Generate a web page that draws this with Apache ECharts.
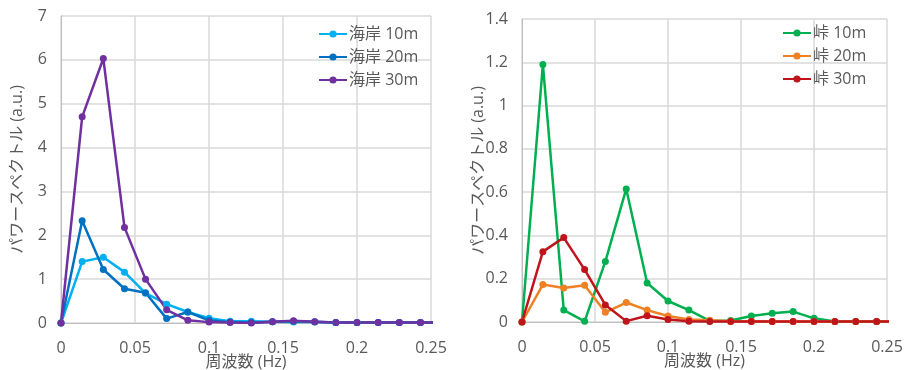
<!DOCTYPE html>
<html><head><meta charset="utf-8">
<script src="https://cdn.jsdelivr.net/npm/echarts@6/dist/echarts.min.js"></script>
<style>html,body{margin:0;padding:0;background:#fff}#c{width:911px;height:370px}</style>
</head><body><div id="c"></div>
<script>
const freqs = [0, 0.0143, 0.0286, 0.0429, 0.0571, 0.0714, 0.0857, 0.1, 0.1143, 0.1286, 0.1429, 0.1571, 0.1714, 0.1857, 0.2, 0.2143, 0.2286, 0.2429, 0.2571];
const coast10 = [0, 1.40, 1.50, 1.16, 0.68, 0.43, 0.25, 0.11, 0.04, 0.04, 0.03, 0.02, 0.02, 0.01, 0.01, 0.01, 0.01, 0.01, 0.01];
const coast20 = [0, 2.33, 1.22, 0.78, 0.69, 0.10, 0.25, 0.06, 0.02, 0.01, 0.03, 0.04, 0.03, 0.01, 0.01, 0.01, 0.01, 0.01, 0.01];
const coast30 = [0, 4.70, 6.03, 2.18, 1.00, 0.30, 0.06, 0.02, 0.01, 0.00, 0.03, 0.05, 0.03, 0.01, 0.01, 0.01, 0.01, 0.01, 0.01];
const pass10 = [0, 1.19, 0.055, 0.003, 0.28, 0.615, 0.18, 0.097, 0.055, 0.005, 0.007, 0.028, 0.04, 0.048, 0.017, 0.002, 0.002, 0.002, 0.002];
const pass20 = [0, 0.173, 0.157, 0.17, 0.045, 0.09, 0.055, 0.028, 0.012, 0.008, 0.004, 0.003, 0.002, 0.002, 0.002, 0.002, 0.002, 0.002, 0.002];
const pass30 = [0, 0.325, 0.39, 0.242, 0.079, 0.004, 0.029, 0.012, 0.003, 0.002, 0.002, 0.002, 0.002, 0.002, 0.002, 0.002, 0.002, 0.002, 0.002];
const names = ['海岸 10m', '海岸 20m', '海岸 30m', '峠 10m', '峠 20m', '峠 30m'];
const colors = ['#00b0f0', '#0070c0', '#7030a0', '#00b050', '#f08024', '#c0141c'];
const xTitle = '周波数 (Hz)';
const yTitle = 'パワースペクトル (a.u.)';

const font = '"Open Sans", "Noto Sans CJK JP", sans-serif';
const txt = '#595959';
const pair = arr => freqs.map((f, i) => [f, arr[i]]);
const xAxisBase = gi => ({
  type: 'value', gridIndex: gi, min: 0, max: 0.25, interval: 0.05,
  name: xTitle, nameLocation: 'middle', nameGap: 31, nameMoveOverlap: false,
  nameTextStyle: { color: txt, fontSize: 16, lineHeight: 16, fontFamily: font, verticalAlign: 'top' },
  axisLine: { show: true, lineStyle: { color: '#bfbfbf', width: 1 } },
  axisTick: { show: false },
  axisLabel: { color: txt, fontSize: 16, lineHeight: 16, fontFamily: font, margin: 17 },
  splitLine: { show: true, lineStyle: { color: '#d9d9d9', width: 1.5 } }
});
const yAxisBase = (gi, max, interval) => ({
  type: 'value', gridIndex: gi, min: 0, max: max, interval: interval,
  name: yTitle, nameLocation: 'middle', nameGap: 36, nameRotate: 90, nameMoveOverlap: false,
  nameTextStyle: { color: txt, fontSize: 16, fontFamily: font },
  axisLine: { show: true, lineStyle: { color: '#bfbfbf', width: 1 } },
  axisTick: { show: false },
  axisLabel: { color: txt, fontSize: 16, fontFamily: font, margin: 14 },
  splitLine: { show: true, lineStyle: { color: '#d9d9d9', width: 1.5 } }
});
const mk = (name, arr, gi, color) => ({
  name: name, type: 'line', xAxisIndex: gi, yAxisIndex: gi, data: pair(arr),
  symbol: 'circle', symbolSize: 7, clip: true,
  lineStyle: { color: color, width: 2.5 }, itemStyle: { color: color },
  emphasis: { disabled: true }, animation: false
});
const legendBase = (data, left, top) => ({
  data: data, orient: 'vertical', left: left, top: top, itemGap: 7,
  itemWidth: 28, itemHeight: 9,
  textStyle: { color: txt, fontSize: 16, lineHeight: 16, fontFamily: font, padding: [0, 0, 0, -3] }
});
const chart = echarts.init(document.getElementById('c'), null, { renderer: 'canvas' });
chart.setOption({
  animation: false,
  color: colors,
  grid: [
    { left: 61, top: 16, width: 370, height: 307, outerBoundsMode: 'none', containLabel: false },
    { left: 522, top: 19, width: 365, height: 303, outerBoundsMode: 'none', containLabel: false }
  ],
  xAxis: [xAxisBase(0), xAxisBase(1)],
  yAxis: [yAxisBase(0, 7, 1), yAxisBase(1, 1.4, 0.2)],
  legend: [
    legendBase(names.slice(0, 3), 313, 21),
    legendBase(names.slice(3, 6), 777, 20)
  ],
  series: [
    mk(names[0], coast10, 0, colors[0]),
    mk(names[1], coast20, 0, colors[1]),
    mk(names[2], coast30, 0, colors[2]),
    mk(names[3], pass10, 1, colors[3]),
    mk(names[4], pass20, 1, colors[4]),
    mk(names[5], pass30, 1, colors[5])
  ]
});
</script></body></html>
